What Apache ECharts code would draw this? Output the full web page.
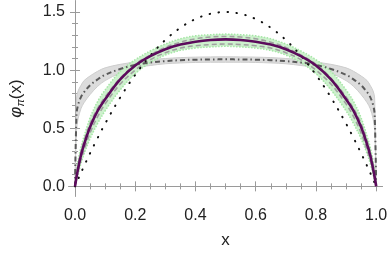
<!DOCTYPE html>
<html><head><meta charset="utf-8">
<script src="https://cdn.jsdelivr.net/npm/echarts@6/dist/echarts.min.js"></script>
<style>html,body{margin:0;padding:0;background:#fff}#c{width:390px;height:254px}</style>
</head><body><div id="c"></div>
<script>
const xs = [0,0.005,0.01,0.02,0.03,0.05,0.075,0.1,0.15,0.2,0.25,0.3,0.35,0.4,0.45,0.5,0.55,0.6,0.65,0.7,0.75,0.8,0.85,0.9,0.925,0.95,0.97,0.98,0.99,0.995,1];
const purple = [0,0.08,0.15,0.27,0.36,0.51,0.65,0.75,0.92,1.04,1.12,1.18,1.22,1.245,1.26,1.265,1.26,1.245,1.22,1.18,1.12,1.04,0.92,0.75,0.65,0.51,0.36,0.27,0.15,0.08,0];
const asym = [0,0.03,0.06,0.118,0.175,0.285,0.416,0.54,0.765,0.96,1.125,1.26,1.365,1.44,1.485,1.5,1.485,1.44,1.365,1.26,1.125,0.96,0.765,0.54,0.416,0.285,0.175,0.118,0.06,0.03,0];
const flatMid = [0,0.62,0.7,0.77,0.81,0.87,0.92,0.96,1.01,1.045,1.065,1.078,1.086,1.09,1.092,1.093,1.092,1.09,1.086,1.078,1.065,1.045,1.01,0.96,0.92,0.87,0.81,0.77,0.7,0.62,0];
const flatLow = [0,0.48,0.58,0.67,0.72,0.79,0.86,0.91,0.975,1.02,1.04,1.055,1.062,1.066,1.068,1.068,1.068,1.066,1.062,1.055,1.04,1.02,0.975,0.91,0.86,0.79,0.72,0.67,0.58,0.48,0];
const flatHigh = [0,0.76,0.82,0.87,0.91,0.95,0.99,1.02,1.05,1.07,1.09,1.1,1.108,1.112,1.114,1.115,1.114,1.112,1.108,1.1,1.09,1.07,1.05,1.02,0.99,0.95,0.91,0.87,0.82,0.76,0];
const greenLow = [0,0.05,0.1,0.2,0.28,0.41,0.54,0.65,0.83,0.97,1.065,1.13,1.17,1.19,1.2,1.205,1.2,1.19,1.17,1.13,1.065,0.97,0.83,0.65,0.54,0.41,0.28,0.2,0.1,0.05,0];
const greenHigh = [0,0.13,0.22,0.34,0.43,0.59,0.73,0.83,0.99,1.09,1.165,1.225,1.27,1.295,1.305,1.31,1.305,1.295,1.27,1.225,1.165,1.09,0.99,0.83,0.73,0.59,0.43,0.34,0.22,0.13,0];
const dashHigh = [0,0.11,0.19,0.3,0.39,0.54,0.67,0.77,0.93,1.05,1.13,1.195,1.24,1.27,1.285,1.29,1.285,1.27,1.24,1.195,1.13,1.05,0.93,0.77,0.67,0.54,0.39,0.3,0.19,0.11,0];
const dashLow = [0,0.07,0.13,0.23,0.31,0.46,0.6,0.71,0.88,1.0,1.09,1.15,1.19,1.21,1.22,1.225,1.22,1.21,1.19,1.15,1.09,1.0,0.88,0.71,0.6,0.46,0.31,0.23,0.13,0.07,0];
const xMajor = [0,0.2,0.4,0.6,0.8,1.0];
const xMinor = [0.05,0.1,0.15,0.25,0.3,0.35,0.45,0.5,0.55,0.65,0.7,0.75,0.85,0.9,0.95];
const yMajor = [0,0.5,1.0,1.5];
const yMinor = [0.1,0.2,0.3,0.4,0.6,0.7,0.8,0.9,1.1,1.2,1.3,1.4];

const pair = ys => xs.map((x,i)=>[x, ys[i]]);
const FONT = 'Liberation Sans';
const AX = '#9a9a9a';
const XMIN=-0.02, XMAX=1.02, YMIN=-0.083, YMAX=1.595;

function xa(pos, vals, len, labels){
  return {type:'value', min:XMIN, max:XMAX, position:pos,
    axisLine:{show:true, lineStyle:{color:AX,width:1}}, splitLine:{show:false},
    axisTick:{show:true, inside:true, length:len, customValues:vals, lineStyle:{color:AX,width:1}},
    axisLabel:{show:labels, customValues:vals, formatter:v=>v.toFixed(1), fontSize:16, color:'#222', fontFamily:FONT, margin:12}};
}
function ya(pos, vals, len, labels){
  return {type:'value', min:YMIN, max:YMAX, position:pos,
    axisLine:{show:true, lineStyle:{color:AX,width:1}}, splitLine:{show:false},
    axisTick:{show:true, inside:true, length:len, customValues:vals, lineStyle:{color:AX,width:1}},
    axisLabel:{show:labels, customValues:vals, formatter:v=>v.toFixed(1), fontSize:16, color:'#222', fontFamily:FONT, margin:4}};
}
const xAxes = [xa('bottom', xMajor, 5, true), xa('bottom', xMinor, 3, false), xa('top', xMajor, 5, false), xa('top', xMinor, 3, false)];
xAxes[0].name='x'; xAxes[0].nameLocation='middle'; xAxes[0].nameGap=36;
xAxes[0].nameTextStyle={fontSize:17, color:'#222', fontFamily:FONT};
const yAxes = [ya('left', yMajor, 5, true), ya('left', yMinor, 3, false), ya('right', yMajor, 5, false), ya('right', yMinor, 3, false)];
yAxes[0].name='{p|φ}{s|π}{n|(x)}'; yAxes[0].nameLocation='middle'; yAxes[0].nameGap=43; yAxes[0].nameRotate=90;
yAxes[0].nameTextStyle={rich:{
  p:{fontSize:17, fontStyle:'italic', color:'#222', fontFamily:FONT},
  s:{fontSize:11, fontStyle:'italic', color:'#222', fontFamily:FONT, verticalAlign:'bottom', padding:[8,0,0,0]},
  n:{fontSize:17, color:'#222', fontFamily:FONT}}};

function band(low, high, fill, z){
  return {type:'custom', silent:true, animation:false, z:z, data:[0],
    renderItem:function(params, api){
      const pts = [];
      for(let i=0;i<xs.length;i++) pts.push(api.coord([xs[i], high[i]]));
      for(let i=xs.length-1;i>=0;i--) pts.push(api.coord([xs[i], low[i]]));
      return {type:'polygon', shape:{points:pts, smooth:0.3}, style:{fill:fill}};
    }};
}
const base = {type:'line', showSymbol:false, symbol:'none', smooth:0.35, animation:false, silent:true};
const L = (ys, ls, z) => Object.assign({}, base, {data:pair(ys), lineStyle:ls, z:z});
const series = [
  band(flatLow, flatHigh, '#dcdcdc', 1),
  L(flatLow, {color:'#cdcdcd', width:1}, 1),
  L(flatHigh, {color:'#cdcdcd', width:1}, 1),
  band(greenLow, greenHigh, 'rgba(200,240,200,0.9)', 2),
  L(greenLow, {color:'#a6e6a6', width:1.5, type:[1.5,1.5]}, 2),
  L(greenHigh, {color:'#a6e6a6', width:1.5, type:[1.5,1.5]}, 2),
  L(dashHigh, {color:'#a0a0a0', width:1.6, type:[5,3]}, 3),
  L(dashLow, {color:'#a0a0a0', width:1.6, type:[5,3]}, 3),
  L(flatMid, {color:'#5a5a5a', width:2, type:[5,3,1.5,3]}, 4),
  L(asym, {color:'#111', width:2, type:[0.5,8.5], cap:'round'}, 5),
  L(purple, {color:'#5c0b5c', width:2.6}, 6)
];

const chart = echarts.init(document.getElementById('c'), null, {renderer:'canvas'});
chart.setOption({
  animation:false,
  grid:{left:55, right:6, top:1, bottom:50, containLabel:false},
  xAxis:xAxes, yAxis:yAxes, series:series
});
</script></body></html>
